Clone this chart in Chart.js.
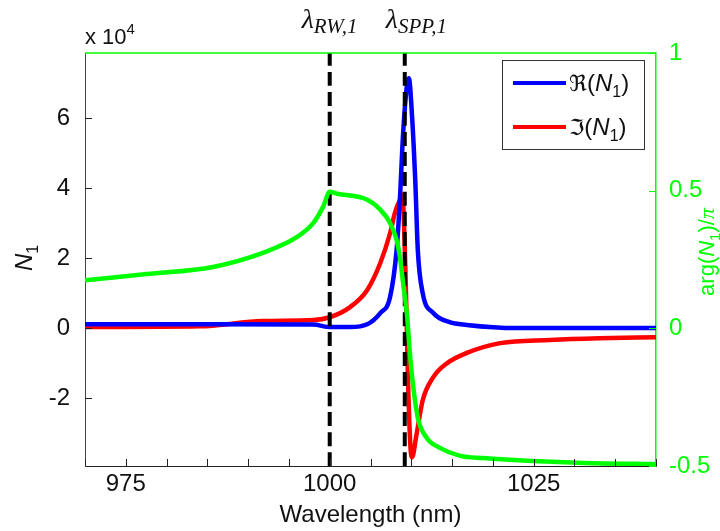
<!DOCTYPE html>
<html lang="en">
<head>
  <meta charset="UTF-8" />
  <title>N1 vs wavelength</title>
  <script src="https://cdn.jsdelivr.net/npm/chart.js"></script>
  <style>
    html, body { margin: 0; padding: 0; background: #fff; }
    #wrap { width: 720px; height: 531px; }
  </style>
</head>
<body>
  <div id="wrap"><canvas id="chart" width="720" height="531"></canvas></div>

  <script>
    // Re(N1)
    const reWl = [970, 985, 998, 1000, 1002.5, 1004.6, 1006.2, 1007.4, 1008.2, 1008.6, 1009.0, 1009.5, 1009.7, 1010.1, 1010.5, 1010.8, 1011.4, 1012.7, 1014.7, 1016.8, 1023, 1040];
    const reN1 = [1100, 1100, 1000, 300, 300, 1100, 4300, 8900, 22300, 36600, 55700, 70000, 71400, 60300, 41400, 22300, 10000, 4300, 1700, 900, 0, 0];

    // Im(N1), red curve
    const imWl = [970, 984, 991.8, 998, 1000, 1002.5, 1004.6, 1006.2, 1007.4, 1008.0, 1008.6, 1008.9, 1009.3, 1009.6, 1009.9, 1010.1, 1010.6, 1011.4, 1012.7, 1014.4, 1016.8, 1020.9, 1027, 1033, 1040];
    const imN1 = [300, 500, 2000, 2300, 3100, 6000, 10900, 18600, 27100, 33000, 36600, 38000, 15000, -15000, -34000, -36900, -31000, -20600, -14000, -10000, -7100, -4300, -3400, -2900, -2600];

    // arg(N1)/pi, green curve (right axis)
    const argWl = [970, 977.6, 985.7, 991.8, 996.0, 998.0, 999.2, 1000.0, 1000.9, 1004.6, 1006.2, 1007.4, 1008.2, 1008.6, 1009.0, 1009.5, 1009.8, 1010.2, 1010.8, 1011.9, 1013.5, 1016.0, 1018.8, 1024.9, 1031.1, 1040];
    const argN1 = [0.175, 0.197, 0.223, 0.274, 0.332, 0.383, 0.442, 0.496, 0.489, 0.467, 0.431, 0.383, 0.321, 0.259, 0.164, 0.040, -0.080, -0.201, -0.325, -0.398, -0.434, -0.463, -0.471, -0.482, -0.489, -0.493];

    // resonance markers
    const markerWl = [1000, 1009.2];
    const markerSub = ['RW,1', 'SPP,1'];

    const xTicks = { min: 970, max: 1040, step: 5, labelEvery: 25 };
    const nRange = { min: -39400, max: 78600 };
    const nTickVals = [-20000, 0, 20000, 40000, 60000];
    const argRange = { min: -0.5, max: 1 };
    const argTickVals = [-0.5, 0, 0.5, 1];

    const GREEN = '#00ff00';
    const SANS = '"Liberation Sans", Arial, sans-serif';
    const SERIF = '"Liberation Serif", "Times New Roman", serif';

    const pts = (xs, ys) => xs.map((x, i) => ({ x: x, y: ys[i] }));

    const markerSets = markerWl.map(w => ({
      data: [{ x: w, y: nRange.min }, { x: w, y: nRange.max }],
      borderColor: '#000',
      borderWidth: 4,
      borderDash: [14, 6],
      yAxisID: 'y',
      order: 2
    }));

    // draws a run of text pieces (with sub/superscripts) starting at x
    function drawParts(ctx, parts, x, y, align) {
      let total = 0;
      parts.forEach(p => { ctx.font = p.font; p.w = ctx.measureText(p.t).width; total += p.w; });
      let cx = align === 'center' ? x - total / 2 : x;
      parts.forEach(p => {
        ctx.font = p.font;
        ctx.fillText(p.t, cx, y + (p.dy || 0));
        cx += p.w;
      });
    }

    const decorations = {
      id: 'decorations',
      afterDatasetsDraw(chart) {
        const { ctx, chartArea: a, scales } = chart;
        ctx.save();

        // inward tick marks
        ctx.lineWidth = 1;
        ctx.strokeStyle = '#222';
        ctx.beginPath();
        scales.x.ticks.forEach(t => {
          const px = Math.round(scales.x.getPixelForValue(t.value)) + 0.5;
          ctx.moveTo(px, a.bottom);
          ctx.lineTo(px, a.bottom - 7);
        });
        scales.y.ticks.forEach(t => {
          const py = Math.round(scales.y.getPixelForValue(t.value)) + 0.5;
          ctx.moveTo(a.left, py);
          ctx.lineTo(a.left + 7, py);
        });
        ctx.stroke();

        ctx.strokeStyle = GREEN;
        ctx.beginPath();
        scales.y2.ticks.forEach(t => {
          const py = Math.round(scales.y2.getPixelForValue(t.value)) + 0.5;
          ctx.moveTo(a.right, py);
          ctx.lineTo(a.right - 7, py);
        });
        ctx.stroke();

        // green top edge of the right-hand axes
        ctx.lineWidth = 1.5;
        ctx.beginPath();
        ctx.moveTo(a.left, a.top);
        ctx.lineTo(a.right, a.top);
        ctx.stroke();

        // legend
        ctx.fillStyle = '#fff';
        ctx.fillRect(502, 60, 142, 89);
        ctx.strokeStyle = '#333';
        ctx.lineWidth = 1;
        ctx.strokeRect(502.5, 60.5, 142, 89);
        const legend = [
          { c: '#0000ff', sym: '\u211C', y: 83 },
          { c: '#ff0000', sym: '\u2111', y: 127 }
        ];
        ctx.textBaseline = 'alphabetic';
        legend.forEach(l => {
          ctx.strokeStyle = l.c;
          ctx.lineWidth = 4;
          ctx.beginPath();
          ctx.moveTo(513, l.y);
          ctx.lineTo(566, l.y);
          ctx.stroke();
          ctx.fillStyle = '#111';
          drawParts(ctx, [
            { t: l.sym, font: '22px "DejaVu Serif", "DejaVu Sans", serif' },
            { t: '(', font: '24px ' + SANS },
            { t: 'N', font: 'italic 24px ' + SANS },
            { t: '1', font: '16px ' + SANS, dy: 6 },
            { t: ')', font: '24px ' + SANS }
          ], 569, l.y + 8, 'left');
        });

        // lambda labels above the dashed lines
        ctx.fillStyle = '#111';
        const offs = [-28, -19];
        markerWl.forEach((w, i) => {
          const px = scales.x.getPixelForValue(w);
          drawParts(ctx, [
            { t: '\u03BB', font: 'italic 28px ' + SERIF },
            { t: markerSub[i], font: 'italic 21px ' + SERIF, dy: 5 }
          ], px + offs[i], 28, 'left');
        });

        // x 10^4 multiplier
        drawParts(ctx, [
          { t: 'x 10', font: '22px ' + SANS },
          { t: '4', font: '15px ' + SANS, dy: -10 }
        ], a.left, 44, 'left');

        // left axis title N_1
        ctx.save();
        ctx.translate(32, 258);
        ctx.rotate(-Math.PI / 2);
        drawParts(ctx, [
          { t: 'N', font: 'italic 24px ' + SANS },
          { t: '1', font: '16px ' + SANS, dy: 6 }
        ], 0, 0, 'center');
        ctx.restore();

        // right axis title arg(N_1)/pi
        ctx.save();
        ctx.fillStyle = GREEN;
        ctx.translate(714, 252);
        ctx.rotate(-Math.PI / 2);
        drawParts(ctx, [
          { t: 'arg(', font: '22px ' + SANS },
          { t: 'N', font: 'italic 22px ' + SANS },
          { t: '1', font: '15px ' + SANS, dy: 6 },
          { t: ')/', font: '22px ' + SANS },
          { t: '\u03C0', font: 'italic 22px ' + SERIF }
        ], 0, 0, 'center');
        ctx.restore();

        ctx.restore();
      }
    };

    new Chart(document.getElementById('chart'), {
      type: 'scatter',
      data: {
        datasets: [
          {
            label: 'arg',
            data: pts(argWl, argN1),
            borderColor: GREEN,
            borderWidth: 4.5,
            yAxisID: 'y2',
            order: 1
          },
          ...markerSets,
          {
            label: 'Re',
            data: pts(reWl, reN1),
            borderColor: '#0000ff',
            borderWidth: 4.5,
            yAxisID: 'y',
            order: 3
          },
          {
            label: 'Im',
            data: pts(imWl, imN1),
            borderColor: '#ff0000',
            borderWidth: 4.5,
            yAxisID: 'y',
            order: 4
          }
        ].map(d => Object.assign({ showLine: true, pointRadius: 0, fill: false, cubicInterpolationMode: 'monotone' }, d))
      },
      options: {
        responsive: false,
        animation: false,
        layout: { padding: { top: 53, left: 0, right: 0, bottom: 0 } },
        plugins: {
          legend: { display: false },
          tooltip: { enabled: false }
        },
        scales: {
          x: {
            type: 'linear',
            position: 'bottom',
            min: xTicks.min,
            max: xTicks.max,
            grid: { display: false },
            border: { display: true, color: '#222', width: 1 },
            afterFit: s => { s.height = 65; },
            ticks: {
              stepSize: xTicks.step,
              autoSkip: false,
              maxRotation: 0,
              padding: -4,
              color: '#111',
              font: { family: SANS, size: 24 },
              callback: v => (v % xTicks.labelEvery === 0 ? String(v) : '')
            },
            title: {
              display: true,
              text: 'Wavelength (nm)',
              color: '#111',
              font: { family: SANS, size: 24 },
              padding: { top: 0, bottom: 1 }
            }
          },
          y: {
            type: 'linear',
            position: 'left',
            min: nRange.min,
            max: nRange.max,
            grid: { display: false },
            border: { display: true, color: '#444', width: 1 },
            afterFit: s => { s.width = 85; },
            afterBuildTicks: s => { s.ticks = nTickVals.map(v => ({ value: v })); },
            ticks: {
              padding: 7,
              color: '#111',
              font: { family: SANS, size: 24 },
              callback: v => String(v / 1e4)
            }
          },
          y2: {
            type: 'linear',
            position: 'right',
            min: argRange.min,
            max: argRange.max,
            grid: { display: false },
            border: { display: true, color: GREEN, width: 1.5 },
            afterFit: s => { s.width = 64; },
            afterBuildTicks: s => { s.ticks = argTickVals.map(v => ({ value: v })); },
            ticks: {
              padding: 5,
              color: GREEN,
              font: { family: SANS, size: 24 },
              callback: v => String(v)
            }
          }
        }
      },
      plugins: [decorations]
    });
  </script>
</body>
</html>
